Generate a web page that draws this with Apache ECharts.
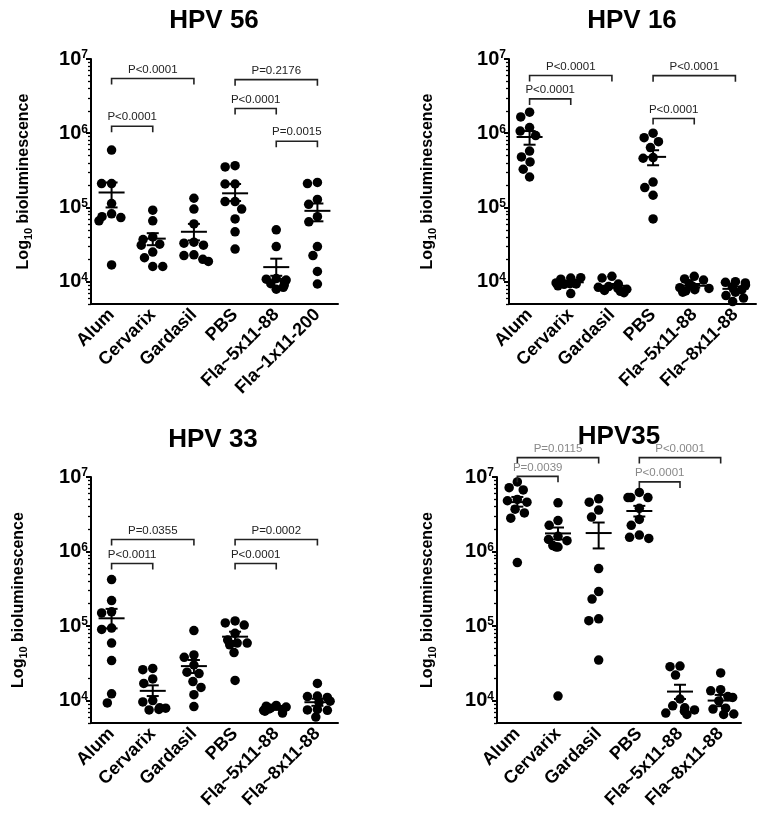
<!DOCTYPE html>
<html><head><meta charset="utf-8">
<script src="https://cdn.jsdelivr.net/npm/echarts@6/dist/echarts.min.js"></script>
<style>html,body{margin:0;padding:0;background:#fff}#c{width:768px;height:824px}</style>
</head><body><div id="c"></div><script>
// ---------- categories ----------
const cats56 = ['Alum', 'Cervarix', 'Gardasil', 'PBS', 'Fla~5x11-88', 'Fla~1x11-200'];
const catsStd = ['Alum', 'Cervarix', 'Gardasil', 'PBS', 'Fla~5x11-88', 'Fla~8x11-88'];
const yTickValues = [1e4, 1e5, 1e6, 1e7];

// ---------- HPV 56 ----------
const hpv56Points = [
  [593000, 210000, 210000, 113000, 82000, 75000, 73000, 66000, 16800],
  [92000, 66000, 40000, 37000, 32000, 31000, 25000, 21000, 16000, 16000],
  [133000, 95000, 60000, 34000, 33000, 31000, 23000, 22500, 20000, 18700],
  [365000, 351000, 207000, 207000, 120000, 120000, 95000, 70000, 47000, 27500],
  [50000, 29700, 11000, 10800, 10500, 10000, 9400, 9000, 8400, 7900],
  [217000, 210000, 128000, 110000, 75000, 64000, 29700, 22500, 13700, 9300]
];
const hpv56Mean = [159000, 38000, 47000, 155000, 15700, 90000];
const hpv56Low = [100000, 31000, 36000, 122000, 12000, 65000];
const hpv56High = [217000, 45000, 60000, 207000, 20400, 113000];
const hpv56Brackets = [[0, 2, 5.45e6, 'P<0.0001'], [0, 1, 1.24e6, 'P<0.0001'], [3, 5, 5.27e6, 'P=0.2176'], [3, 4, 2.15e6, 'P<0.0001'], [4, 5, 7.8e5, 'P=0.0015']];

// ---------- HPV 16 ----------
const hpv16Points = [
  [1920000, 1660000, 1190000, 1070000, 930000, 575000, 480000, 410000, 327000, 257000],
  [11200, 10800, 11300, 9500, 9300, 9400, 9600, 9200, 8800, 6900],
  [11800, 11200, 9300, 8600, 8400, 8100, 7900, 7600, 7400, 7100],
  [1000000, 870000, 770000, 640000, 470000, 460000, 220000, 185000, 146000, 70000],
  [11800, 10900, 10500, 9400, 8700, 8300, 8100, 7800, 7500, 7200],
  [10000, 9800, 9600, 9000, 8500, 7800, 7200, 6500, 6000, 5400]
];
const hpv16Mean = [890000, 9800, 8800, 480000, 8800, 8000];
const hpv16Low = [700000, 9300, 8300, 370000, 8300, 7400];
const hpv16High = [1070000, 10300, 9300, 590000, 9300, 8600];
const hpv16Brackets = [[0, 2, 6.0e6, 'P<0.0001'], [0, 1, 2.9e6, 'P<0.0001'], [3, 5, 5.97e6, 'P<0.0001'], [3, 4, 1.58e6, 'P<0.0001']];

// ---------- HPV 33 ----------
const hpv33Points = [
  [420000, 220000, 155000, 150000, 94000, 90000, 59000, 34400, 12300, 9300],
  [27000, 26000, 19500, 17000, 10000, 9600, 8000, 7900, 7600, 7500],
  [87000, 41000, 38000, 30000, 24000, 23000, 18000, 15000, 12000, 8300],
  [117000, 110000, 103000, 80000, 65000, 59000, 59000, 56000, 44000, 18600],
  [8600, 8400, 8200, 8000, 7900, 7700, 7600, 7400, 7200, 6800],
  [17000, 11500, 11300, 11000, 9800, 9500, 7600, 7500, 7400, 6000]
];
const hpv33Mean = [127000, 13500, 29000, 72000, 7800, 9500];
const hpv33Low = [93000, 11500, 23400, 63000, 7500, 8500];
const hpv33High = [170000, 16000, 35000, 84000, 8100, 10600];
const hpv33Brackets = [[0, 2, 1.45e6, 'P=0.0355'], [0, 1, 6.9e5, 'P<0.0011'], [3, 5, 1.45e6, 'P=0.0002'], [3, 4, 6.9e5, 'P<0.0001']];

// ---------- HPV 35 ----------
const hpv35Points = [
  [8600000, 7200000, 6700000, 5000000, 4800000, 4600000, 3700000, 3300000, 2800000, 710000],
  [4500000, 2600000, 2250000, 1600000, 1450000, 1400000, 1200000, 1150000, 1150000, 11500],
  [5100000, 4600000, 3600000, 2900000, 590000, 290000, 230000, 125000, 118000, 35000],
  [6200000, 5300000, 5300000, 5300000, 3800000, 2700000, 2250000, 1660000, 1550000, 1500000],
  [29000, 28500, 22000, 10500, 8500, 8000, 7500, 7200, 6800, 6500],
  [23500, 14000, 13500, 11300, 11000, 9900, 7900, 7700, 6600, 6500]
];
const hpv35Mean = [4600000, 1750000, 1770000, 3500000, 13200, 10000];
const hpv35Low = [4000000, 1450000, 1100000, 2950000, 10500, 8400];
const hpv35High = [5400000, 2100000, 2450000, 4100000, 16300, 11900];
const hpv35Brackets = [[0, 2, 1.82e7, 'P=0.0115'], [0, 1, 1.02e7, 'P=0.0039'], [3, 5, 1.82e7, 'P<0.0001'], [3, 4, 8.6e6, 'P<0.0001']];

// ---------- layout / style ----------
const FONT = '"Liberation Sans", Arial, Helvetica, sans-serif';
const panels = [
  { title: 'HPV 56', cats: cats56, points: hpv56Points, mean: hpv56Mean, low: hpv56Low, high: hpv56High, brackets: hpv56Brackets,
    grid: { left: 91, top: 59, width: 247, height: 245 }, titleX: 214, titleTop: 8, nameGap: 57, pColor: '#222' },
  { title: 'HPV 16', cats: catsStd, points: hpv16Points, mean: hpv16Mean, low: hpv16Low, high: hpv16High, brackets: hpv16Brackets,
    grid: { left: 509, top: 59, width: 247, height: 245 }, titleX: 632, titleTop: 8, nameGap: 71, pColor: '#222' },
  { title: 'HPV 33', cats: catsStd, points: hpv33Points, mean: hpv33Mean, low: hpv33Low, high: hpv33High, brackets: hpv33Brackets,
    grid: { left: 91, top: 477, width: 247, height: 246 }, titleX: 213, titleTop: 427, nameGap: 62, pColor: '#222' },
  { title: 'HPV35', cats: catsStd, points: hpv35Points, mean: hpv35Mean, low: hpv35Low, high: hpv35High, brackets: hpv35Brackets,
    grid: { left: 497, top: 477, width: 244, height: 246 }, titleX: 619, titleTop: 424, nameGap: 59, pColor: '#888' }
];

// minor log ticks (axis decoration only)
const minorTicks = [];
for (let e = 3; e <= 6; e++) for (let m = 2; m <= 9; m++) { const v = m * Math.pow(10, e); if (v >= 5000 && v < 1e7) minorTicks.push(v); }

function meanRender(params, api) {
  const c = api.coord([api.value(0), api.value(1)]);
  const lo = api.coord([api.value(0), api.value(2)]);
  const hi = api.coord([api.value(0), api.value(3)]);
  const st = { stroke: '#000', lineWidth: 2 };
  return { type: 'group', children: [
    { type: 'line', shape: { x1: c[0] - 13, y1: c[1], x2: c[0] + 13, y2: c[1] }, style: st },
    { type: 'line', shape: { x1: c[0], y1: lo[1], x2: c[0], y2: hi[1] }, style: st },
    { type: 'line', shape: { x1: c[0] - 6, y1: lo[1], x2: c[0] + 6, y2: lo[1] }, style: st },
    { type: 'line', shape: { x1: c[0] - 6, y1: hi[1], x2: c[0] + 6, y2: hi[1] }, style: st }
  ] };
}

function makeBracketRender(p) {
  return function (params, api) {
    const b = p.brackets[params.dataIndex];
    const a = api.coord([api.value(0), api.value(2)]);
    const z = api.coord([api.value(1), api.value(2)]);
    const y = a[1];
    return { type: 'group', children: [
      { type: 'polyline', shape: { points: [[a[0], y + 6], [a[0], y], [z[0], y], [z[0], y + 6]] },
        style: { stroke: '#222', lineWidth: 1.6, fill: null } },
      { type: 'text', x: (a[0] + z[0]) / 2, y: y - 3,
        style: { text: b[3], fill: p.pColor, fontSize: 11.5, fontFamily: FONT, align: 'center', verticalAlign: 'bottom' } }
    ] };
  };
}

const grids = [], xAxes = [], yAxes = [], series = [], titles = [];
panels.forEach((p, g) => {
  titles.push({ text: p.title, left: p.titleX, top: p.titleTop, textAlign: 'center', padding: 0,
    textStyle: { fontSize: 26, fontWeight: 'bold', fontFamily: FONT, color: '#000' } });
  grids.push(Object.assign({ containLabel: false }, p.grid));
  xAxes.push({
    type: 'category', gridIndex: g, data: p.cats, boundaryGap: true,
    jitter: 30, jitterOverlap: false, jitterMargin: 0.5,
    axisLine: { onZero: false, lineStyle: { color: '#000', width: 2 } },
    axisTick: { alignWithLabel: true, length: 5, lineStyle: { color: '#000', width: 2 } },
    axisLabel: { interval: 0, rotate: 45, margin: 8, fontSize: 18, fontWeight: 'bold', fontFamily: FONT, color: '#000' },
    splitLine: { show: false }
  });
  yAxes.push({
    type: 'log', logBase: 10, gridIndex: g, min: 5000, max: 1e7,
    axisLine: { show: true, lineStyle: { color: '#000', width: 2 } },
    axisTick: { show: true, length: 5, customValues: yTickValues, lineStyle: { color: '#000', width: 2 } },
    axisLabel: {
      customValues: yTickValues, margin: 3,
      formatter: v => '{b|10}{s|' + Math.round(Math.log10(v)) + '}',
      rich: {
        b: { fontSize: 20, fontWeight: 'bold', fontFamily: FONT, color: '#000', lineHeight: 20 },
        s: { fontSize: 12, fontWeight: 'bold', fontFamily: FONT, color: '#000', lineHeight: 10, verticalAlign: 'top' }
      }
    },
    splitLine: { show: false },
    name: 'Log{s|10} bioluminescence', nameLocation: 'middle', nameRotate: 90, nameGap: p.nameGap,
    nameTextStyle: { fontSize: 16, fontWeight: 'bold', fontFamily: FONT, color: '#000', lineHeight: 20,
      rich: { s: { fontSize: 11, fontWeight: 'bold', fontFamily: FONT, color: '#000', lineHeight: 10, verticalAlign: 'bottom' } } }
  });
  yAxes.push({
    type: 'log', logBase: 10, gridIndex: g, min: 5000, max: 1e7, position: 'left',
    axisLine: { show: false },
    axisTick: { show: true, length: 3, customValues: minorTicks, lineStyle: { color: '#000', width: 1.3 } },
    axisLabel: { show: false }, splitLine: { show: false }
  });
  const pts = [];
  p.points.forEach((arr, ci) => arr.forEach(v => pts.push([ci, v])));
  series.push({ type: 'scatter', xAxisIndex: g, yAxisIndex: 2 * g, symbol: 'circle', symbolSize: 9.5,
    itemStyle: { color: '#000', opacity: 1 }, emphasis: { disabled: true }, silent: true, data: pts, z: 2 });
  series.push({ type: 'custom', xAxisIndex: g, yAxisIndex: 2 * g, renderItem: meanRender, silent: true, z: 3,
    encode: { x: 0, y: [1, 2, 3] },
    data: p.mean.map((m, i) => [i, m, p.low[i], p.high[i]]) });
  series.push({ type: 'custom', xAxisIndex: g, yAxisIndex: 2 * g, renderItem: makeBracketRender(p), silent: true, z: 4, clip: false,
    encode: { x: [0, 1], y: 2 },
    data: p.brackets.map(b => [b[0], b[1], b[2]]) });
});

const chart = echarts.init(document.getElementById('c'), null, { renderer: 'canvas' });
chart.setOption({ animation: false, backgroundColor: '#fff', title: titles, grid: grids, xAxis: xAxes, yAxis: yAxes, series: series });
</script></body></html>
